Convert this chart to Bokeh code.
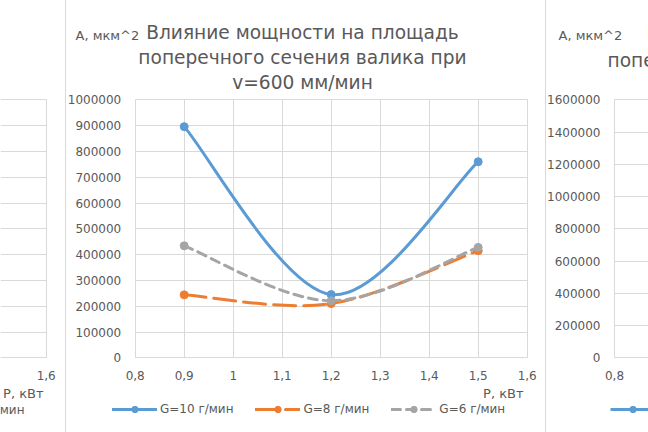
import numpy as np
from bokeh.plotting import figure
from bokeh.models import (Range1d, FixedTicker, NumeralTickFormatter, Label, Legend,
                          LegendItem, Spacer, ColumnDataSource)
from bokeh.layouts import row
from bokeh.embed import file_html
from bokeh.resources import INLINE

# ---------------- data ----------------
power_kw = [0.9, 1.2, 1.5]
area_g10 = [896000, 245000, 760000]
area_g8 = [244000, 210000, 415000]
area_g6 = [434000, 221000, 428000]
series_names = ["G=10 г/мин", "G=8 г/мин", "G=6 г/мин"]

x_ticks = [0.8, 0.9, 1.0, 1.1, 1.2, 1.3, 1.4, 1.5, 1.6]
x_tick_labels = ["0,8", "0,9", "1", "1,1", "1,2", "1,3", "1,4", "1,5", "1,6"]
y_ticks = [0, 100000, 200000, 300000, 400000, 500000, 600000, 700000, 800000, 900000, 1000000]
y_ticks_next = [0, 200000, 400000, 600000, 800000, 1000000, 1200000, 1400000, 1600000]

title_lines = ["Влияние мощности на площадь", "поперечного сечения валика при", "v=600 мм/мин"]
y_title = "А, мкм^2"
x_title = "Р, кВт"

# ---------------- style / layout ----------------
BLUE, ORANGE, GRAY = "#5B9BD5", "#ED7D31", "#A5A5A5"
TXT = "#595959"
GRID = "#D9D9D9"
FONT = "DejaVu Sans"
H = 432
PX_X = 490.0          # pixels per 1 kW
PX_Y = 258.0          # pixels from 0 to top of value axis
ZERO_FROM_BOTTOM = 74.7
TITLE_SIZE = "18.6px"
AXIS_TITLE_SIZE = "13px"

label_overrides = {t: s for t, s in zip(x_ticks, x_tick_labels)}


def make_fig(width, x_lo, x_hi, origin_px, y_top, yticks, show_y=True):
    """Frame fills the whole canvas; the plot area [x_lo, x_hi] x [0, y_top] is mapped so
    that x_lo sits origin_px pixels from the left edge."""
    x_start = x_lo - origin_px / PX_X
    x_end = x_start + width / PX_X
    y_start = -ZERO_FROM_BOTTOM / PX_Y * y_top
    y_end = y_start + H / PX_Y * y_top
    p = figure(width=width, height=H, x_range=Range1d(x_start, x_end), y_range=Range1d(y_start, y_end),
               output_backend="svg", toolbar_location=None,
               min_border_left=0, min_border_right=0, min_border_top=0, min_border_bottom=0)
    p.background_fill_color = "white"
    p.border_fill_color = "white"
    p.outline_line_color = None
    x_lo_vis = max(x_lo, x_start)
    x_hi_vis = min(x_hi, x_end)
    p.xgrid.ticker = FixedTicker(ticks=x_ticks)
    p.xgrid.bounds = (x_lo_vis, x_hi_vis)
    p.xgrid.cross_bounds = (0, y_top)
    p.ygrid.ticker = FixedTicker(ticks=yticks)
    p.ygrid.bounds = (0, y_top)
    p.ygrid.cross_bounds = (x_lo_vis, x_hi_vis)
    for g in (p.xgrid, p.ygrid):
        g.grid_line_color = GRID
        g.grid_line_width = 1
    ax = p.xaxis[0]
    ax.fixed_location = 0
    ax.bounds = (x_lo_vis, x_hi_vis)
    ax.ticker = FixedTicker(ticks=x_ticks)
    ax.major_label_overrides = label_overrides
    ax.axis_line_color = GRID
    ax.major_tick_line_color = None
    ax.minor_tick_line_color = None
    ax.major_tick_out = 0
    ax.major_tick_in = 0
    ax.major_label_standoff = 13
    ax.major_label_text_font = FONT
    ax.major_label_text_font_size = "12px"
    ax.major_label_text_color = TXT
    ay = p.yaxis[0]
    ay.fixed_location = x_lo
    ay.bounds = (0, y_top)
    ay.ticker = FixedTicker(ticks=yticks)
    ay.formatter = NumeralTickFormatter(format="0")
    ay.axis_line_color = None
    ay.major_tick_line_color = None
    ay.minor_tick_line_color = None
    ay.major_tick_out = 0
    ay.major_tick_in = 0
    ay.major_label_standoff = 14
    ay.major_label_text_font = FONT
    ay.major_label_text_font_size = "12px"
    ay.major_label_text_color = TXT
    ay.visible = show_y
    return p


def add_text(p, x, y, text, size=AXIS_TITLE_SIZE, align="left"):
    p.add_layout(Label(x=x, y=y, x_units="screen", y_units="screen", text=text,
                       text_align=align, text_baseline="middle", text_font=FONT,
                       text_font_size=size, text_color=TXT))


def bezier_source(xs, ys):
    x = np.asarray(xs, float)
    y = np.asarray(ys, float)
    n = len(x)
    d = {k: [] for k in ("x0", "y0", "x1", "y1", "cx0", "cy0", "cx1", "cy1")}
    for i in range(n - 1):
        a = max(i - 1, 0)
        b = min(i + 2, n - 1)
        d["x0"].append(x[i]); d["y0"].append(y[i])
        d["x1"].append(x[i + 1]); d["y1"].append(y[i + 1])
        d["cx0"].append(x[i] + (x[i + 1] - x[a]) / 6.0)
        d["cy0"].append(y[i] + (y[i + 1] - y[a]) / 6.0)
        d["cx1"].append(x[i + 1] - (x[b] - x[i]) / 6.0)
        d["cy1"].append(y[i + 1] - (y[b] - y[i]) / 6.0)
    return ColumnDataSource(d)


def make_legend(items, x, y):
    lg = Legend(items=items, location=(x, y))
    lg.orientation = "horizontal"
    lg.glyph_width = 45
    lg.glyph_height = 16
    lg.label_height = 16
    lg.label_standoff = 3
    lg.spacing = 22
    lg.padding = 0
    lg.margin = 0
    lg.border_line_color = None
    lg.background_fill_alpha = 0
    lg.label_text_font = FONT
    lg.label_text_font_size = "12px"
    lg.label_text_color = TXT
    return lg


# ---------------- left neighbour fragment ----------------
left_w = 65
pl = make_fig(left_w, 1.5, 1.6, -3.3, 1000000, y_ticks, show_y=False)
add_text(pl, 43, 39, x_title, align="right")
add_text(pl, 24, 23, series_names[2], size="12px", align="right")

# ---------------- main chart ----------------
main_w = 479
p = make_fig(main_w, 0.8, 1.6, 68.7, 1000000, y_ticks)

items = []
for ys, col, dash, name in ((area_g10, BLUE, "solid", series_names[0]),
                            (area_g8, ORANGE, "22 8", series_names[1]),
                            (area_g6, GRAY, "9 6", series_names[2])):
    src = bezier_source(power_kw, ys)
    r_line = p.bezier(x0="x0", y0="y0", x1="x1", y1="y1", cx0="cx0", cy0="cy0",
                      cx1="cx1", cy1="cy1", source=src, line_color=col, line_width=3,
                      line_dash=dash, line_cap="round")
    r_pts = p.scatter(power_kw, ys, size=8, marker="circle", fill_color=col, line_color=col)
    items.append(LegendItem(label=name, renderers=[r_line, r_pts]))

p.add_layout(make_legend(items, 46, 15.5))

add_text(p, 236, 400, title_lines[0], size=TITLE_SIZE, align="center")
add_text(p, 236, 375, title_lines[1], size=TITLE_SIZE, align="center")
add_text(p, 236, 350, title_lines[2], size=TITLE_SIZE, align="center")
add_text(p, 9, 397, y_title, align="left")
add_text(p, 457, 39, x_title, align="right")

# ---------------- right neighbour fragment ----------------
right_w = 102
pr = make_fig(right_w, 0.8, 1.6, 68, 1600000, y_ticks_next)
add_text(pr, 100, 399, title_lines[0], size=TITLE_SIZE, align="left")
add_text(pr, 61, 372, title_lines[1], size=TITLE_SIZE, align="left")
add_text(pr, 12, 397, y_title, align="left")
r_leg_line = pr.line(x=[np.nan], y=[np.nan], line_color=BLUE, line_width=3)
r_leg_pts = pr.scatter(x=[np.nan], y=[np.nan], size=8, marker="circle", fill_color=BLUE, line_color=BLUE)
pr.add_layout(make_legend([LegendItem(label=series_names[0], renderers=[r_leg_line, r_leg_pts])],
                          64, 15.5))

sep1 = Spacer(width=1, height=H, styles={"background-color": GRID})
sep2 = Spacer(width=1, height=H, styles={"background-color": GRID})

layout = row(pl, sep1, p, sep2, pr)

open("out.html", "w").write(file_html(layout, INLINE))
